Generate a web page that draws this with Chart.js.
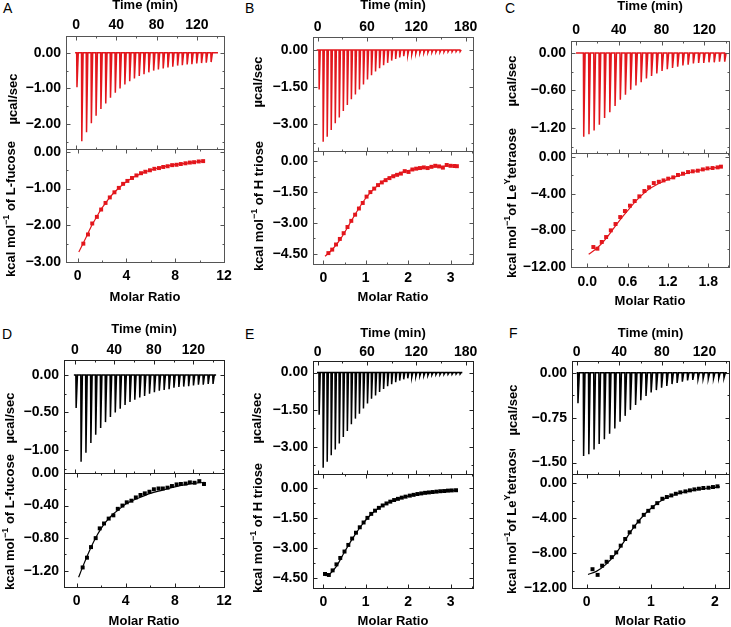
<!DOCTYPE html>
<html><head><meta charset="utf-8">
<script src="https://cdn.jsdelivr.net/npm/chart.js@4.4.1/dist/chart.umd.min.js"></script>
<style>
html,body{margin:0;padding:0;background:#fff;width:731px;height:627px;overflow:hidden;position:relative}
canvas{position:absolute}
.lbl{position:absolute;font:14px 'Liberation Sans',Arial,sans-serif;color:#000;line-height:16px}
</style></head><body>
<div class="lbl" style="left:3px;top:0px">A</div>
<div class="lbl" style="left:245px;top:0px">B</div>
<div class="lbl" style="left:505px;top:0px">C</div>
<div class="lbl" style="left:2px;top:326px">D</div>
<div class="lbl" style="left:245px;top:326px">E</div>
<div class="lbl" style="left:509px;top:325px">F</div>
<script>
// ---------------- DATA ----------------
// Thermograms: injection times (min), peak heat rate (ucal/sec), baseline span (min)
const A_injTime = [0.6,5.4,10.1,14.9,19.6,24.4,29.2,33.9,38.7,43.4,48.2,53.0,57.7,62.5,67.2,72.0,76.8,81.5,86.3,91.0,95.8,100.6,105.3,110.1,114.8,119.6,124.4,129.1,133.9];
const A_peak = [-0.97,-2.48,-2.23,-1.98,-1.77,-1.58,-1.42,-1.26,-1.12,-1.00,-0.89,-0.80,-0.72,-0.65,-0.60,-0.55,-0.50,-0.47,-0.44,-0.41,-0.39,-0.36,-0.35,-0.33,-0.32,-0.30,-0.29,-0.28,-0.26];
const A_base = [-1, 141];
const B_injTime = [1.5,6.4,11.3,16.2,21.1,26.0,30.9,35.8,40.7,45.6,50.5,55.4,60.3,65.2,70.1,75.0,79.9,84.8,89.7,94.6,99.5,104.4,109.3,114.2,119.1,124.0,128.9,133.8,138.7,143.6,148.5,153.4,158.3,163.2,168.1,173.0];
const B_peak = [-1.59,-3.70,-3.50,-3.22,-2.95,-2.72,-2.46,-2.22,-1.99,-1.79,-1.59,-1.39,-1.19,-1.02,-0.87,-0.74,-0.62,-0.52,-0.43,-0.36,-0.30,-0.25,-0.21,-0.18,-0.15,-0.13,-0.12,-0.11,-0.10,-0.09,-0.09,-0.08,-0.08,-0.08,-0.07,-0.07];
const B_base = [-1.2, 175];
const C_injTime = [6.9,11.8,16.6,21.5,26.4,31.3,36.2,41.1,45.9,50.8,55.7,60.6,65.5,70.3,75.2,80.1,85.0,89.9,94.7,99.6,104.5,109.4,114.3,119.1,124.0,128.9,133.8,138.7];
const C_peak = [-1.34,-1.30,-1.24,-1.15,-1.04,-0.95,-0.85,-0.75,-0.67,-0.59,-0.52,-0.47,-0.41,-0.37,-0.33,-0.29,-0.26,-0.24,-0.22,-0.20,-0.19,-0.17,-0.16,-0.16,-0.15,-0.15,-0.14,-0.14];
const C_base = [0, 141];
const D_injTime = [1.0,6.0,10.9,15.9,20.8,25.8,30.7,35.7,40.6,45.6,50.5,55.5,60.4,65.4,70.3,75.3,80.2,85.2,90.1,95.1,100.0,105.0,109.9,114.9,119.8,124.8,129.7,134.7,139.6];
const D_peak = [-0.44,-1.16,-1.04,-0.91,-0.80,-0.71,-0.63,-0.56,-0.50,-0.45,-0.40,-0.36,-0.33,-0.30,-0.28,-0.25,-0.23,-0.21,-0.20,-0.19,-0.17,-0.16,-0.155,-0.15,-0.14,-0.13,-0.13,-0.12,-0.12];
const D_base = [-1, 143];
const E_injTime = [1.5,6.4,11.3,16.2,21.1,26.0,30.9,35.8,40.7,45.6,50.5,55.4,60.3,65.2,70.1,75.0,79.9,84.8,89.7,94.6,99.5,104.4,109.3,114.2,119.1,124.0,128.9,133.8,138.7,143.6,148.5,153.4,158.3,163.2,168.1,173.0];
const E_peak = [-1.70,-3.85,-3.60,-3.34,-3.11,-2.87,-2.60,-2.36,-2.09,-1.86,-1.66,-1.45,-1.25,-1.06,-0.92,-0.78,-0.66,-0.55,-0.47,-0.39,-0.32,-0.27,-0.23,-0.19,-0.16,-0.13,-0.12,-0.11,-0.09,-0.08,-0.08,-0.07,-0.07,-0.07,-0.06,-0.06];
const E_base = [-0.8, 176];
const F_injTime = [0.9,6.2,11.1,16.0,20.8,25.7,30.6,35.5,40.4,45.2,50.1,55.0,59.9,64.8,69.6,74.5,79.4,84.3,89.2,94.0,98.9,103.8,108.7,113.6,118.4,123.3,128.2,133.1,138.0];
const F_peak = [-0.51,-1.39,-1.36,-1.28,-1.19,-1.11,-1.02,-0.93,-0.82,-0.72,-0.62,-0.54,-0.46,-0.39,-0.33,-0.29,-0.25,-0.22,-0.19,-0.17,-0.15,-0.13,-0.12,-0.11,-0.105,-0.10,-0.095,-0.09,-0.085];
const F_base = [0, 141];

// Binding isotherms: molar ratio, integrated heat (kcal/mol of injectant), fitted curve
const A_ratio = [0.47,0.85,1.20,1.58,1.93,2.29,2.64,3.02,3.38,3.73,4.08,4.46,4.82,5.20,5.55,5.93,6.29,6.67,7.02,7.38,7.75,8.11,8.46,8.84,9.20,9.55,9.93,10.29];
const A_heat = [-2.50,-2.25,-1.95,-1.77,-1.57,-1.39,-1.24,-1.10,-0.98,-0.87,-0.79,-0.71,-0.64,-0.58,-0.54,-0.50,-0.46,-0.44,-0.41,-0.39,-0.36,-0.35,-0.33,-0.31,-0.29,-0.28,-0.26,-0.25];
const A_fitRatio = [0.10,0.47,0.85,1.20,1.58,1.93,2.30,2.64,3.02,3.73,4.46,5.20,5.93,6.67,7.38,8.11,8.84,9.55,10.29];
const A_fitHeat = [-2.73,-2.48,-2.22,-1.98,-1.76,-1.56,-1.39,-1.24,-1.10,-0.88,-0.71,-0.59,-0.50,-0.43,-0.38,-0.34,-0.31,-0.28,-0.25];

const B_ratio = [0.12,0.21,0.30,0.39,0.48,0.57,0.66,0.75,0.84,0.93,1.02,1.11,1.20,1.29,1.38,1.47,1.56,1.65,1.74,1.83,1.92,2.01,2.10,2.19,2.28,2.37,2.46,2.55,2.64,2.73,2.82,2.91,3.00,3.09,3.15];
const B_heat = [-4.47,-4.30,-4.05,-3.78,-3.50,-3.20,-2.90,-2.60,-2.30,-2.03,-1.72,-1.50,-1.33,-1.16,-1.03,-0.92,-0.82,-0.73,-0.66,-0.60,-0.48,-0.52,-0.40,-0.36,-0.33,-0.30,-0.33,-0.27,-0.22,-0.25,-0.31,-0.18,-0.22,-0.23,-0.24];
const B_fitRatio = [0.04,0.2,0.4,0.6,0.8,1.0,1.2,1.4,1.6,1.8,2.0,2.3,2.6,2.9,3.15];
const B_fitHeat = [-4.62,-4.32,-3.80,-3.12,-2.42,-1.80,-1.33,-0.98,-0.74,-0.57,-0.45,-0.34,-0.27,-0.23,-0.21];

const C_ratio = [0.09,0.15,0.215,0.28,0.35,0.42,0.49,0.56,0.635,0.705,0.775,0.85,0.92,0.99,1.065,1.135,1.205,1.28,1.35,1.425,1.50,1.57,1.645,1.72,1.79,1.865,1.94,1.99];
const C_heat = [-9.82,-10.0,-9.27,-8.73,-8.0,-7.31,-6.55,-5.89,-5.31,-4.8,-4.29,-3.71,-3.30,-2.84,-2.70,-2.55,-2.36,-2.22,-1.96,-1.82,-1.64,-1.56,-1.49,-1.35,-1.24,-1.20,-1.13,-1.05];
const C_fitRatio = [0.02,0.15,0.3,0.45,0.6,0.75,0.9,1.05,1.2,1.4,1.6,1.8,2.0];
const C_fitHeat = [-10.6,-9.9,-8.7,-7.2,-5.85,-4.6,-3.6,-2.95,-2.45,-1.95,-1.55,-1.28,-1.07];

const D_ratio = [0.49,0.84,1.17,1.55,1.88,2.23,2.61,2.99,3.35,3.73,4.08,4.46,4.82,5.20,5.55,5.93,6.29,6.67,7.02,7.40,7.76,8.14,8.49,8.87,9.22,9.60,9.99,10.37];
const D_heat = [-1.16,-1.04,-0.91,-0.80,-0.68,-0.62,-0.56,-0.52,-0.44,-0.40,-0.36,-0.34,-0.30,-0.27,-0.25,-0.23,-0.20,-0.19,-0.19,-0.18,-0.16,-0.14,-0.135,-0.13,-0.115,-0.12,-0.10,-0.135];
const D_fitRatio = [0.16,0.5,1.0,1.5,2.0,2.5,3.0,3.5,4.0,5.0,6.0,7.0,8.0,9.0,10.0,10.4];
const D_fitHeat = [-1.28,-1.15,-0.97,-0.81,-0.68,-0.58,-0.50,-0.44,-0.38,-0.31,-0.25,-0.21,-0.17,-0.14,-0.12,-0.115];

const E_ratio = [0.04,0.13,0.22,0.31,0.40,0.50,0.59,0.68,0.77,0.86,0.95,1.04,1.13,1.22,1.31,1.40,1.49,1.58,1.67,1.76,1.85,1.94,2.04,2.13,2.22,2.31,2.40,2.49,2.58,2.67,2.76,2.85,2.94,3.03,3.13];
const E_heat = [-4.30,-4.35,-4.12,-3.82,-3.50,-3.18,-2.85,-2.53,-2.24,-1.97,-1.73,-1.50,-1.30,-1.14,-1.00,-0.88,-0.78,-0.69,-0.61,-0.55,-0.49,-0.44,-0.39,-0.35,-0.31,-0.28,-0.25,-0.23,-0.21,-0.19,-0.17,-0.16,-0.14,-0.13,-0.12];
const E_fitRatio = [0.04,0.15,0.3,0.5,0.7,0.9,1.1,1.3,1.5,1.7,1.9,2.2,2.5,2.8,3.13];
const E_fitHeat = [-4.38,-4.30,-3.95,-3.20,-2.50,-1.88,-1.38,-1.02,-0.77,-0.60,-0.47,-0.33,-0.24,-0.18,-0.13];

const F_ratio = [0.09,0.17,0.24,0.31,0.39,0.46,0.53,0.60,0.67,0.74,0.81,0.89,0.96,1.03,1.10,1.18,1.25,1.32,1.39,1.46,1.54,1.61,1.68,1.75,1.82,1.90,1.97,2.04];
const F_heat = [-9.85,-10.5,-9.45,-9.0,-8.47,-7.93,-7.16,-6.4,-5.63,-4.98,-4.4,-3.64,-3.18,-2.76,-2.3,-1.8,-1.6,-1.42,-1.23,-1.07,-0.96,-0.84,-0.73,-0.65,-0.57,-0.54,-0.46,-0.38];
const F_fitRatio = [0.02,0.15,0.3,0.45,0.6,0.75,0.9,1.05,1.2,1.4,1.6,1.8,2.0,2.08];
const F_fitHeat = [-10.45,-10.1,-9.3,-8.1,-6.5,-4.9,-3.6,-2.6,-1.85,-1.25,-0.9,-0.66,-0.5,-0.45];

// Tick labels
const TIME_TICKS_140 = [0,40,80,120];
const TIME_TICKS_180 = [0,60,120,180];
const RATIO_TICKS_12 = [0,4,8,12];
const RATIO_TICKS_3 = [0,1,2,3];
const RATIO_TICKS_C = [0,0.6,1.2,1.8];
const RATIO_TICKS_2 = [0,1,2];
const A_YTOP = [0,-1,-2];       const A_YBOT = [0,-1,-2,-3];
const B_YTOP = [0,-1.5,-3];     const B_YBOT = [0,-1.5,-3,-4.5];
const C_YTOP = [0,-0.6,-1.2];   const C_YBOT = [0,-4,-8,-12];
const D_YTOP = [0,-0.5,-1];     const D_YBOT = [0,-0.4,-0.8,-1.2];
const E_YTOP = [0,-1.5,-3];     const E_YBOT = [0,-1.5,-3,-4.5];
const F_YTOP = [0,-0.75,-1.5];  const F_YBOT = [0,-4,-8,-12];

// ---------------- RENDERING ----------------
const FONT = "'Liberation Sans', Arial, Helvetica, sans-serif";
const RED = '#e3161c', BLACK = '#000000';

function fmtNum(dec){ return function(v){ const s = Math.abs(v).toFixed(dec); return v < -1e-9 ? '\u2212' + s : s; }; }
function trace(times, peaks, base){
  const pts = [{x: base[0], y: 0}];
  times.forEach((t, i) => { pts.push({x: t, y: 0}, {x: t + 0.3, y: peaks[i]}, {x: t + 1.6, y: 0}); });
  pts.push({x: base[1], y: 0});
  return pts;
}
function pairs(xs, ys){ return xs.map((x, i) => ({x: x, y: ys[i]})); }

function framePlugin(color){
  return { id: 'frame', afterDatasetsDraw(chart){
    const ctx = chart.ctx, a = chart.chartArea;
    const l = Math.round(a.left) + 0.5, t = Math.round(a.top) + 0.5, r = Math.round(a.right) + 0.5, b = Math.round(a.bottom) + 0.5;
    ctx.save();
    ctx.strokeStyle = color; ctx.lineWidth = 1;
    ctx.strokeRect(l, t, r - l, b - t);
    const marks = (scale) => {
      const maj = scale.ticks.map(k => k.value).sort((p, q) => p - q);
      const step = maj[1] - maj[0];
      const out = maj.map(v => [v, 4]);
      for (let v = maj[0] - step / 2; v <= scale.max + 1e-9; v += step) if (v >= scale.min - 1e-9) out.push([v, 2]);
      return out;
    };
    ctx.beginPath();
    marks(chart.scales.x).forEach(([v, len]) => {
      const p = Math.round(chart.scales.x.getPixelForValue(v)) + 0.5;
      ctx.moveTo(p, t); ctx.lineTo(p, t + len); ctx.moveTo(p, b); ctx.lineTo(p, b - len);
    });
    marks(chart.scales.y).forEach(([v, len]) => {
      const p = Math.round(chart.scales.y.getPixelForValue(v)) + 0.5;
      ctx.moveTo(l, p); ctx.lineTo(l + len, p); ctx.moveTo(r, p); ctx.lineTo(r - len, p);
    });
    ctx.stroke();
    ctx.restore();
  }};
}
function yTitlePlugin(parts, x, y){
  return { id: 'ytitle', afterDraw(chart){
    const ctx = chart.ctx;
    ctx.save();
    ctx.translate(x, y); ctx.rotate(-Math.PI / 2);
    ctx.fillStyle = '#000'; ctx.textBaseline = 'alphabetic'; ctx.textAlign = 'left';
    const fontOf = p => 'bold ' + (p.sup ? 9 : 13) + 'px ' + FONT;
    let w = 0;
    parts.forEach(p => { ctx.font = fontOf(p); w += ctx.measureText(p.t).width; });
    let xx = -w / 2;
    parts.forEach(p => { ctx.font = fontOf(p); ctx.fillText(p.t, xx, p.sup ? -1 : 4.5); xx += ctx.measureText(p.t).width; });
    ctx.restore();
  }};
}

function addChart(o){
  const isTop = o.isTop;
  const padTop = isTop ? 0 : 25, padBot = isTop ? 2 : 0, padR = 12;
  const cy = isTop ? o.cy : o.T - padTop;
  const ch = isTop ? (o.B - cy + padBot) : (o.bottom - cy);
  const cw = o.R - o.cx + padR;
  const cv = document.createElement('canvas');
  cv.width = cw; cv.height = ch;
  cv.style.left = o.cx + 'px'; cv.style.top = cy + 'px';
  document.body.appendChild(cv);
  const xAxisH = isTop ? (o.T - cy) : (cy + ch - o.B);
  const yAxisW = o.L - o.cx;
  const tickFont = {family: FONT, size: 14, weight: 'bold'};
  const titleFont = {family: FONT, size: 13, weight: 'bold'};
  const zeroPad = s => { s.paddingLeft = 0; s.paddingRight = 0; s.paddingTop = 0; s.paddingBottom = 0; };
  new Chart(cv, {
    type: 'line',
    data: { datasets: o.datasets },
    options: {
      responsive: false, animation: false, devicePixelRatio: 1,
      layout: { padding: { left: 0, top: padTop, right: padR, bottom: padBot } },
      plugins: { legend: { display: false }, tooltip: { enabled: false } },
      elements: { line: { tension: 0 } },
      scales: {
        x: {
          type: 'linear', position: isTop ? 'top' : 'bottom', min: o.xmin, max: o.xmax,
          afterBuildTicks: s => { s.ticks = o.xticks.slice().sort((p, q) => p - q).map(v => ({value: v})); },
          afterFit: s => { s.height = xAxisH; zeroPad(s); },
          grid: { display: false, drawTicks: false, tickLength: 0 }, border: { display: false },
          ticks: { font: tickFont, color: '#000', padding: o.tpad, autoSkip: false, maxRotation: 0, minRotation: 0, callback: fmtNum(o.xdec) },
          title: { display: true, text: isTop ? 'Time (min)' : 'Molar Ratio', font: titleFont, color: '#000', padding: 0 }
        },
        y: {
          type: 'linear', position: 'left', min: o.ymin, max: o.ymax,
          afterBuildTicks: s => { s.ticks = o.yticks.slice().sort((p, q) => p - q).map(v => ({value: v})); },
          afterFit: s => { s.width = yAxisW; zeroPad(s); },
          grid: { display: false, drawTicks: false, tickLength: 0 }, border: { display: false },
          ticks: { font: tickFont, color: '#000', padding: 5, autoSkip: false, callback: fmtNum(2) }
        }
      }
    },
    plugins: [framePlugin(o.frame), yTitlePlugin(o.ytitle, o.yt[0] - o.cx, o.yt[1] - cy)]
  });
}

const UCAL = [{t: '\u00b5cal/sec'}];
function kcal(rest){ return [{t: 'kcal mol'}, {t: '\u22121', sup: 1}].concat(rest); }
function thermoSet(times, peaks, base, color){
  return [{ data: trace(times, peaks, base), borderColor: color, borderWidth: 1.5, pointRadius: 0, fill: false }];
}
function isoSets(rx, hy, fx, fy, color){
  return [
    { data: pairs(fx, fy), borderColor: color, borderWidth: 1.2, pointRadius: 0, fill: false, cubicInterpolationMode: 'monotone' },
    { data: pairs(rx, hy), showLine: false, pointStyle: 'rect', pointRadius: 2.8, pointBackgroundColor: color, pointBorderWidth: 0, borderColor: color }
  ];
}

const panels = [
  { frame: '#555', color: RED, cx: 0,
    top: {cy: -2, L: 66, T: 36, R: 224, B: 149, tpad: 2.6, xmin: -10, xmax: 147, ymin: -2.70, ymax: 0.47, xticks: TIME_TICKS_140, yticks: A_YTOP, yt: [12, 99]},
    bot: {L: 66, T: 149, R: 224, B: 262, bottom: 305, tpad: 5.6, xmin: -0.95, xmax: 12, ymin: -3.0, ymax: 0.08, xticks: RATIO_TICKS_12, xdec: 0, yticks: A_YBOT, yt: [10, 209]},
    thermo: [A_injTime, A_peak, A_base], iso: [A_ratio, A_heat, A_fitRatio, A_fitHeat], ylab: kcal([{t: ' of L-fucose'}]) },
  { frame: '#555', color: RED, cx: 245,
    top: {cy: -2, L: 313, T: 37, R: 473, B: 151, tpad: 1.3, xmin: -5.7, xmax: 189, ymin: -4.07, ymax: 0.52, xticks: TIME_TICKS_180, yticks: B_YTOP, yt: [257.5, 82]},
    bot: {L: 313, T: 151, R: 473, B: 264, bottom: 305, tpad: 5.3, xmin: -0.243, xmax: 3.53, ymin: -5.0, ymax: 0.5, xticks: RATIO_TICKS_3, xdec: 0, yticks: B_YBOT, yt: [258, 206]},
    thermo: [B_injTime, B_peak, B_base], iso: [B_ratio, B_heat, B_fitRatio, B_fitHeat], ylab: kcal([{t: ' of H triose'}]) },
  { frame: '#555', color: RED, cx: 497,
    top: {cy: -1, L: 571, T: 41, R: 729, B: 153, tpad: 2.6, xmin: -4.7, xmax: 143, ymin: -1.6, ymax: 0.19, xticks: TIME_TICKS_140, yticks: C_YTOP, yt: [511, 81]},
    bot: {L: 571, T: 153, R: 729, B: 267, bottom: 309, tpad: 6.3, xmin: -0.243, xmax: 2.11, ymin: -12, ymax: 0.44, xticks: RATIO_TICKS_C, xdec: 1, yticks: C_YBOT, yt: [511, 203]},
    thermo: [C_injTime, C_peak, C_base], iso: [C_ratio, C_heat, C_fitRatio, C_fitHeat], ylab: kcal([{t: 'of Le'}, {t: 'Y', sup: 1}, {t: 'tetraose'}]) },
  { frame: '#222', color: BLACK, cx: 0,
    top: {cy: 322, L: 64, T: 360, R: 224, B: 473, tpad: 1.6, xmin: -11, xmax: 151, ymin: -1.31, ymax: 0.2, xticks: TIME_TICKS_140, yticks: D_YTOP, yt: [9.5, 418]},
    bot: {L: 64, T: 473, R: 224, B: 587, bottom: 629, tpad: 5.3, xmin: -1.03, xmax: 12, ymin: -1.4, ymax: 0, xticks: RATIO_TICKS_12, xdec: 0, yticks: D_YBOT, yt: [9, 522]},
    thermo: [D_injTime, D_peak, D_base], iso: [D_ratio, D_heat, D_fitRatio, D_fitHeat], ylab: kcal([{t: ' of L-fucose'}]) },
  { frame: '#222', color: BLACK, cx: 245,
    top: {cy: 326, L: 313, T: 361, R: 473, B: 474, tpad: 0, xmin: -5.7, xmax: 189, ymin: -4.1, ymax: 0.47, xticks: TIME_TICKS_180, yticks: E_YTOP, yt: [256, 418]},
    bot: {L: 313, T: 474, R: 473, B: 588, bottom: 629, tpad: 5.3, xmin: -0.243, xmax: 3.53, ymin: -5.0, ymax: 0.69, xticks: RATIO_TICKS_3, xdec: 0, yticks: E_YBOT, yt: [257, 528]},
    thermo: [E_injTime, E_peak, E_base], iso: [E_ratio, E_heat, E_fitRatio, E_fitHeat], ylab: kcal([{t: ' of H triose'}]) },
  { frame: '#222', color: BLACK, cx: 497,
    top: {cy: 326, L: 572, T: 361, R: 729, B: 474, tpad: 0.9, xmin: -4.4, xmax: 143, ymin: -1.69, ymax: 0.195, xticks: TIME_TICKS_140, yticks: F_YTOP, yt: [512, 410]},
    bot: {L: 572, T: 474, R: 729, B: 588, bottom: 629, tpad: 5.3, xmin: -0.23, xmax: 2.22, ymin: -12, ymax: 1.03, xticks: RATIO_TICKS_2, xdec: 0, yticks: F_YBOT, yt: [511, 519]},
    thermo: [F_injTime, F_peak, F_base], iso: [F_ratio, F_heat, F_fitRatio, F_fitHeat], ylab: kcal([{t: 'of Le'}, {t: 'Y', sup: 1}, {t: 'tetraose'}]) }
];

panels.forEach(p => {
  addChart(Object.assign({}, p.top, { isTop: true, cx: p.cx, frame: p.frame, xdec: 0, ytitle: UCAL,
    datasets: thermoSet(p.thermo[0], p.thermo[1], p.thermo[2], p.color) }));
  addChart(Object.assign({}, p.bot, { isTop: false, cx: p.cx, frame: p.frame, ytitle: p.ylab,
    datasets: isoSets(p.iso[0], p.iso[1], p.iso[2], p.iso[3], p.color) }));
});
</script>
</body></html>
